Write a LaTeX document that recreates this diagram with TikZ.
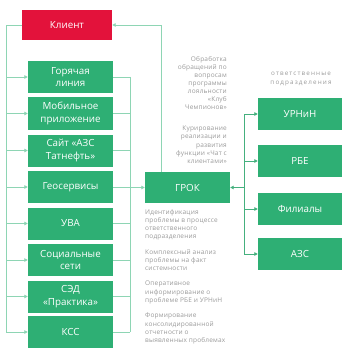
\documentclass[tikz,border=0pt]{standalone}
\usepackage{fontspec}
\setmainfont{Open Sans}
\usetikzlibrary{arrows.meta}
\definecolor{gbox}{HTML}{2EAF74}
\definecolor{rbox}{HTML}{E3123B}
\definecolor{lline}{HTML}{8ED5B4}
\definecolor{dline}{HTML}{45B07E}
\definecolor{note}{HTML}{9A9A9A}
\tikzset{
  box/.style={fill=gbox, text=white, minimum width=85pt, minimum height=32pt, inner sep=1pt, align=center, font=\fontsize{9.8}{12.8}\selectfont},
  rbx/.style={box, minimum width=84pt},
  lconn/.style={draw=lline, line width=0.9pt},
  dconn/.style={draw=dline, line width=0.9pt},
  tip/.style={-{Triangle[length=3.5pt,width=3.5pt]}},
  notel/.style={text=note, font=\fontsize{6.5}{8.1}\selectfont\addfontfeatures{LetterSpace=3}, inner sep=0pt},
}
\begin{document}
\begin{tikzpicture}[x=1pt,y=-1pt]
\useasboundingbox (0,0) rectangle (346,350);
% client
\node[box, fill=rbox, minimum width=90pt, minimum height=30pt] (client) at (67,25) {Клиент};
% left boxes
\node[box] (b1) at (70.5,77) {Горячая\\линия};
\node[box] (b2) at (70.5,113.5) {Мобильное\\приложение};
\node[box] (b3) at (70.5,150.5) {Сайт «АЗС\\Татнефть»};
\node[box] (b4) at (70.5,187) {Геосервисы};
\node[box] (b5) at (70.5,223.5) {УВА};
\node[box] (b6) at (70.5,260) {Социальные\\сети};
\node[box] (b7) at (70.5,296.5) {СЭД\\«Практика»};
\node[box] (b8) at (70.5,332) {КСС};
% grok
\node[box, minimum height=31pt] (grok) at (187.5,187.5) {ГРОК};
% right boxes
\node[rbx] (r1) at (300,114) {УРНиН};
\node[rbx] (r2) at (300,161) {РБЕ};
\node[rbx] (r3) at (300,209) {Филиалы};
\node[rbx] (r4) at (300,254) {АЗС};
% header
\node[text=note, font=\fontsize{6.3}{9.5}\selectfont\addfontfeatures{LetterSpace=18}, align=center, inner sep=0pt] (hdr) at (301,79) {ответственные\\подразделения};
% left bus
\coordinate (lbt) at (6,25);
\coordinate (lbb) at (6,332);
\draw[lconn] (client.west) -- (lbt) -- (lbb);
\foreach \i in {1,...,8} {
  \draw[lconn, tip] (b\i.west -| lbt) -- (b\i.west);
}
% right bus of left boxes
\coordinate (mbt) at (130,77);
\coordinate (mbb) at (130,332);
\draw[lconn] (mbt) -- (mbb);
\foreach \i in {1,...,8} {
  \draw[lconn] (b\i.east) -- (b\i.east -| mbt);
}
\draw[lconn, tip] (grok.west -| mbt) -- (grok.west);
% grok to client
\coordinate (gt) at (161,172);
\draw[lconn, tip] (gt) |- (client.east);
% right bus
\coordinate (rbt) at (244,114);
\coordinate (rbb) at (244,254);
\draw[dconn] (rbt) -- (rbb);
\foreach \i in {1,...,4} {
  \draw[dconn, tip] (r\i.west -| rbt) -- (r\i.west);
}
\draw[dconn, tip] (grok.east -| rbt) -- (grok.east);
% notes above grok
\node[notel, anchor=north east, align=right] (n1) at (227,56) {Обработка\\обращений по\\вопросам\\программы\\лояльности\\«Клуб\\Чемпионов»};
\node[notel, anchor=north east, align=right] (n2) at (227,126) {Курирование\\реализации и\\развития\\функции «Чат с\\клиентами»};
% notes below grok
\node[notel, anchor=north west, align=left] (n3) at (145,209) {Идентификация\\проблемы в процессе\\ответственного\\подразделения};
\node[notel, anchor=north west, align=left] (n4) at (145,249) {Комплексный анализ\\проблемы на факт\\системности};
\node[notel, anchor=north west, align=left] (n5) at (145,281) {Оперативное\\информирование о\\проблеме РБЕ и УРНиН};
\node[notel, anchor=north west, align=left] (n6) at (145,313) {Формирование\\консолидированной\\отчетности о\\выявленных проблемах};
\end{tikzpicture}
\end{document}
